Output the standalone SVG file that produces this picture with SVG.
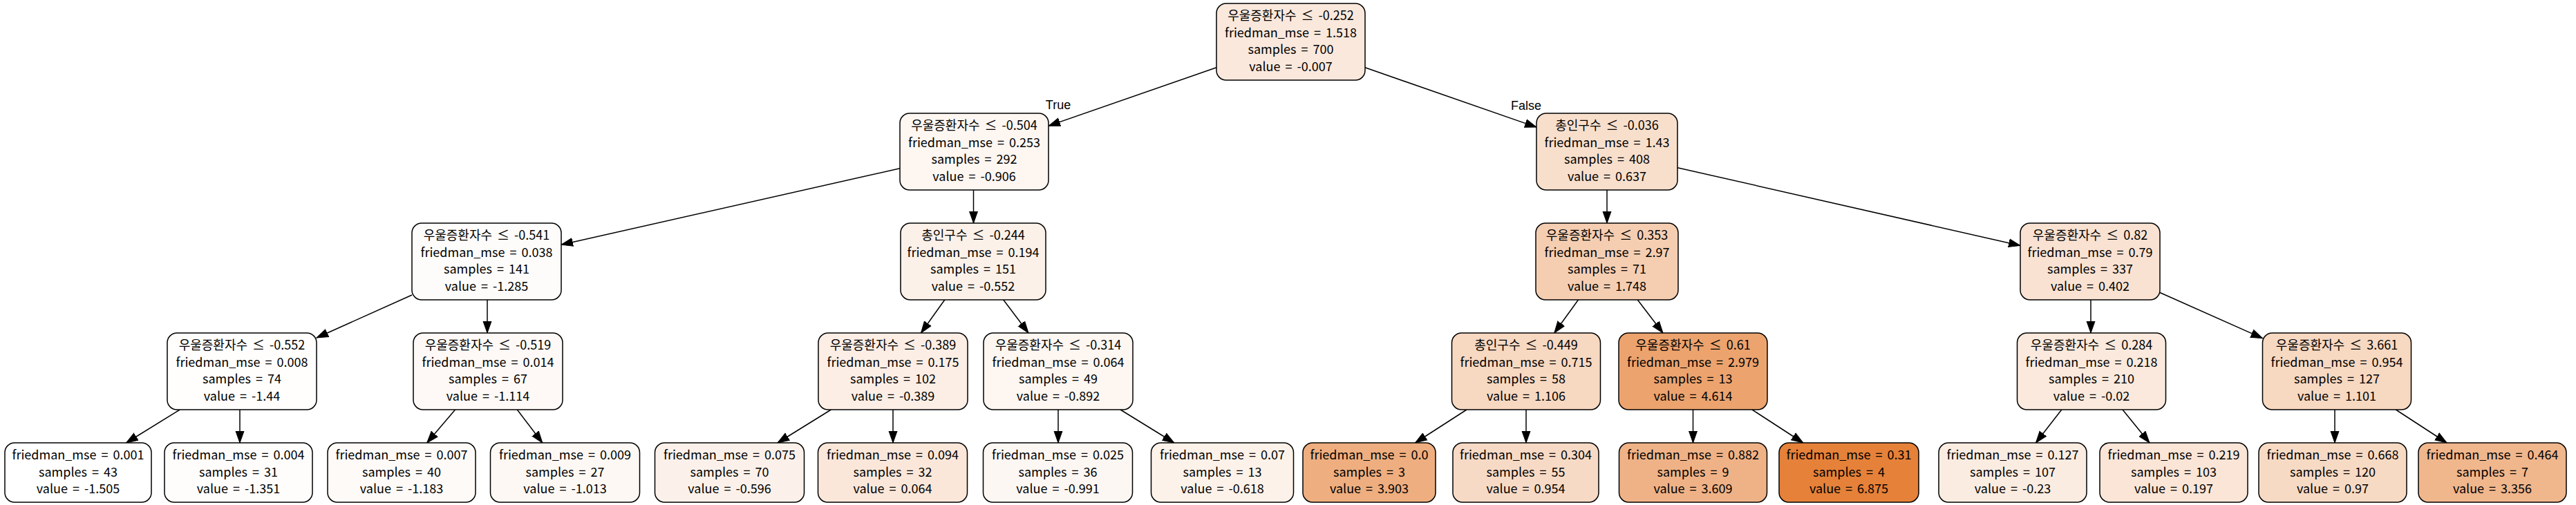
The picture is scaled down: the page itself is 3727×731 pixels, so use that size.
<svg xmlns="http://www.w3.org/2000/svg" width="3727" height="731" viewBox="0 0 3727 731">
<style>
.box{stroke:#000;stroke-width:1.5}
text{font-family:"Noto Sans CJK KR","Noto Sans",sans-serif;font-size:18px;word-spacing:3px;fill:#000;text-anchor:middle}
.lbl{font-family:"Liberation Sans",Arial,sans-serif;font-size:18px;word-spacing:0}
.e{stroke:#000;stroke-width:1.5;fill:none;marker-end:url(#ah)}
</style>
<defs>
<marker id="ah" markerUnits="userSpaceOnUse" markerWidth="18" markerHeight="14" viewBox="0 0 18 14" refX="17" refY="7" orient="auto">
<path d="M0,1 L17,7 L0,13 Z" fill="#000" stroke="#000" stroke-width="1"/>
</marker>
</defs>
<rect width="3727" height="731" fill="#fff"/>
<g id="edges">
<path class="e" d="M1760,97.8 L1517,182.2"/>
<path class="e" d="M1975,97.8 L2223,184.1"/>
<path class="e" d="M1302,243.7 L812,354.2"/>
<path class="e" d="M1408.5,275 L1408.5,323"/>
<path class="e" d="M596,427 L458,489"/>
<path class="e" d="M705,433 L705,482"/>
<path class="e" d="M260.2,593 L182.6,641"/>
<path class="e" d="M347,593 L347,641"/>
<path class="e" d="M658.6,593 L617.7,641"/>
<path class="e" d="M748.3,593 L784.8,641"/>
<path class="e" d="M1367.5,433 L1332.5,482"/>
<path class="e" d="M1451,433 L1488,482"/>
<path class="e" d="M1202.4,593 L1125,641"/>
<path class="e" d="M1292,593 L1292,641"/>
<path class="e" d="M1531,593 L1531,641"/>
<path class="e" d="M1621,593 L1698.8,641"/>
<path class="e" d="M2325,275 L2325,323"/>
<path class="e" d="M2427,242.7 L2923,355.5"/>
<path class="e" d="M2284.2,433 L2248.8,482"/>
<path class="e" d="M2368.5,433 L2406,482"/>
<path class="e" d="M2122,593 L2047.6,641"/>
<path class="e" d="M2208,593 L2208,641"/>
<path class="e" d="M2449.5,593 L2449.5,641"/>
<path class="e" d="M2535,593 L2608.8,641"/>
<path class="e" d="M3025,433 L3025,482"/>
<path class="e" d="M3125,423.5 L3273.5,489.6"/>
<path class="e" d="M2982.8,593 L2945.5,641"/>
<path class="e" d="M3071,593 L3110,641"/>
<path class="e" d="M3378,593 L3378,641"/>
<path class="e" d="M3466.3,593 L3540,641"/>
<text class="lbl" x="1531" y="158">True</text>
<text class="lbl" x="2208" y="159">False</text>
</g>
<g id="n0"><rect class="box" x="1760" y="5" width="215" height="111" rx="14" fill="#fae8dc"/>
<text x="1867.5" y="29">우울증환자수 ≤ -0.252</text><text x="1867.5" y="53.5">friedman_mse = 1.518</text><text x="1867.5" y="78">samples = 700</text><text x="1867.5" y="102.5">value = -0.007</text></g>
<g id="n1"><rect class="box" x="1302" y="164" width="215" height="111" rx="14" fill="#fdf6f1"/>
<text x="1409.5" y="188">우울증환자수 ≤ -0.504</text><text x="1409.5" y="212.5">friedman_mse = 0.253</text><text x="1409.5" y="237">samples = 292</text><text x="1409.5" y="261.5">value = -0.906</text></g>
<g id="n2"><rect class="box" x="596" y="323" width="216" height="111" rx="14" fill="#fefcfa"/>
<text x="704" y="347">우울증환자수 ≤ -0.541</text><text x="704" y="371.5">friedman_mse = 0.038</text><text x="704" y="396">samples = 141</text><text x="704" y="420.5">value = -1.285</text></g>
<g id="n3"><rect class="box" x="242" y="482" width="216" height="111" rx="14" fill="#fffefd"/>
<text x="350" y="506">우울증환자수 ≤ -0.552</text><text x="350" y="530.5">friedman_mse = 0.008</text><text x="350" y="555">samples = 74</text><text x="350" y="579.5">value = -1.44</text></g>
<g id="l1"><rect class="box" x="7" y="641" width="212" height="86" rx="14" fill="#ffffff"/>
<text x="113" y="665">friedman_mse = 0.001</text><text x="113" y="689.5">samples = 43</text><text x="113" y="714">value = -1.505</text></g>
<g id="l2"><rect class="box" x="238" y="641" width="214" height="86" rx="14" fill="#fffdfb"/>
<text x="345" y="665">friedman_mse = 0.004</text><text x="345" y="689.5">samples = 31</text><text x="345" y="714">value = -1.351</text></g>
<g id="n4"><rect class="box" x="598" y="482" width="216" height="111" rx="14" fill="#fef9f6"/>
<text x="706" y="506">우울증환자수 ≤ -0.519</text><text x="706" y="530.5">friedman_mse = 0.014</text><text x="706" y="555">samples = 67</text><text x="706" y="579.5">value = -1.114</text></g>
<g id="l3"><rect class="box" x="474" y="641" width="214" height="86" rx="14" fill="#fefaf7"/>
<text x="581" y="665">friedman_mse = 0.007</text><text x="581" y="689.5">samples = 40</text><text x="581" y="714">value = -1.183</text></g>
<g id="l4"><rect class="box" x="709.5" y="641" width="216" height="86" rx="14" fill="#fdf8f3"/>
<text x="817.5" y="665">friedman_mse = 0.009</text><text x="817.5" y="689.5">samples = 27</text><text x="817.5" y="714">value = -1.013</text></g>
<g id="n5"><rect class="box" x="1303" y="323" width="210" height="111" rx="14" fill="#fcf1e8"/>
<text x="1408" y="347">총인구수 ≤ -0.244</text><text x="1408" y="371.5">friedman_mse = 0.194</text><text x="1408" y="396">samples = 151</text><text x="1408" y="420.5">value = -0.552</text></g>
<g id="n6"><rect class="box" x="1184" y="482" width="216" height="111" rx="14" fill="#fceee5"/>
<text x="1292" y="506">우울증환자수 ≤ -0.389</text><text x="1292" y="530.5">friedman_mse = 0.175</text><text x="1292" y="555">samples = 102</text><text x="1292" y="579.5">value = -0.389</text></g>
<g id="l5"><rect class="box" x="947.5" y="641" width="216" height="86" rx="14" fill="#fcf1ea"/>
<text x="1055.5" y="665">friedman_mse = 0.075</text><text x="1055.5" y="689.5">samples = 70</text><text x="1055.5" y="714">value = -0.596</text></g>
<g id="l6"><rect class="box" x="1183.5" y="641" width="216" height="86" rx="14" fill="#fae7da"/>
<text x="1291.5" y="665">friedman_mse = 0.094</text><text x="1291.5" y="689.5">samples = 32</text><text x="1291.5" y="714">value = 0.064</text></g>
<g id="n7"><rect class="box" x="1423" y="482" width="216" height="111" rx="14" fill="#fdf6f1"/>
<text x="1531" y="506">우울증환자수 ≤ -0.314</text><text x="1531" y="530.5">friedman_mse = 0.064</text><text x="1531" y="555">samples = 49</text><text x="1531" y="579.5">value = -0.892</text></g>
<g id="l7"><rect class="box" x="1422.5" y="641" width="216" height="86" rx="14" fill="#fdf7f3"/>
<text x="1530.5" y="665">friedman_mse = 0.025</text><text x="1530.5" y="689.5">samples = 36</text><text x="1530.5" y="714">value = -0.991</text></g>
<g id="l8"><rect class="box" x="1665.5" y="641" width="206" height="86" rx="14" fill="#fcf2ea"/>
<text x="1768.5" y="665">friedman_mse = 0.07</text><text x="1768.5" y="689.5">samples = 13</text><text x="1768.5" y="714">value = -0.618</text></g>
<g id="nF"><rect class="box" x="2223" y="164" width="204" height="111" rx="14" fill="#f8dfcc"/>
<text x="2325" y="188">총인구수 ≤ -0.036</text><text x="2325" y="212.5">friedman_mse = 1.43</text><text x="2325" y="237">samples = 408</text><text x="2325" y="261.5">value = 0.637</text></g>
<g id="n8"><rect class="box" x="2222" y="323" width="206" height="111" rx="14" fill="#f5ceb2"/>
<text x="2325" y="347">우울증환자수 ≤ 0.353</text><text x="2325" y="371.5">friedman_mse = 2.97</text><text x="2325" y="396">samples = 71</text><text x="2325" y="420.5">value = 1.748</text></g>
<g id="n9"><rect class="box" x="2100.5" y="482" width="215" height="111" rx="14" fill="#f7d8c1"/>
<text x="2208" y="506">총인구수 ≤ -0.449</text><text x="2208" y="530.5">friedman_mse = 0.715</text><text x="2208" y="555">samples = 58</text><text x="2208" y="579.5">value = 1.106</text></g>
<g id="l9"><rect class="box" x="1885" y="641" width="192" height="86" rx="14" fill="#eeae7f"/>
<text x="1981" y="665">friedman_mse = 0.0</text><text x="1981" y="689.5">samples = 3</text><text x="1981" y="714">value = 3.903</text></g>
<g id="l10"><rect class="box" x="2102" y="641" width="211" height="86" rx="14" fill="#f7dac5"/>
<text x="2207.5" y="665">friedman_mse = 0.304</text><text x="2207.5" y="689.5">samples = 55</text><text x="2207.5" y="714">value = 0.954</text></g>
<g id="n10"><rect class="box" x="2342" y="482" width="215" height="111" rx="14" fill="#eca36e"/>
<text x="2449.5" y="506">우울증환자수 ≤ 0.61</text><text x="2449.5" y="530.5">friedman_mse = 2.979</text><text x="2449.5" y="555">samples = 13</text><text x="2449.5" y="579.5">value = 4.614</text></g>
<g id="l11"><rect class="box" x="2342.5" y="641" width="214" height="86" rx="14" fill="#efb286"/>
<text x="2449.5" y="665">friedman_mse = 0.882</text><text x="2449.5" y="689.5">samples = 9</text><text x="2449.5" y="714">value = 3.609</text></g>
<g id="l12"><rect class="box" x="2574" y="641" width="202" height="86" rx="14" fill="#e58139"/>
<text x="2675" y="665">friedman_mse = 0.31</text><text x="2675" y="689.5">samples = 4</text><text x="2675" y="714">value = 6.875</text></g>
<g id="n11"><rect class="box" x="2923" y="323" width="202" height="111" rx="14" fill="#f9e2d2"/>
<text x="3024" y="347">우울증환자수 ≤ 0.82</text><text x="3024" y="371.5">friedman_mse = 0.79</text><text x="3024" y="396">samples = 337</text><text x="3024" y="420.5">value = 0.402</text></g>
<g id="n12"><rect class="box" x="2918.5" y="482" width="215" height="111" rx="14" fill="#fae9dc"/>
<text x="3026" y="506">우울증환자수 ≤ 0.284</text><text x="3026" y="530.5">friedman_mse = 0.218</text><text x="3026" y="555">samples = 210</text><text x="3026" y="579.5">value = -0.02</text></g>
<g id="l13"><rect class="box" x="2805" y="641" width="214" height="86" rx="14" fill="#fbece1"/>
<text x="2912" y="665">friedman_mse = 0.127</text><text x="2912" y="689.5">samples = 107</text><text x="2912" y="714">value = -0.23</text></g>
<g id="l14"><rect class="box" x="3038" y="641" width="214" height="86" rx="14" fill="#fae5d7"/>
<text x="3145" y="665">friedman_mse = 0.219</text><text x="3145" y="689.5">samples = 103</text><text x="3145" y="714">value = 0.197</text></g>
<g id="n13"><rect class="box" x="3273.5" y="482" width="215" height="111" rx="14" fill="#f7d8c1"/>
<text x="3381" y="506">우울증환자수 ≤ 3.661</text><text x="3381" y="530.5">friedman_mse = 0.954</text><text x="3381" y="555">samples = 127</text><text x="3381" y="579.5">value = 1.101</text></g>
<g id="l15"><rect class="box" x="3268" y="641" width="214" height="86" rx="14" fill="#f7dac4"/>
<text x="3375" y="665">friedman_mse = 0.668</text><text x="3375" y="689.5">samples = 120</text><text x="3375" y="714">value = 0.97</text></g>
<g id="l16"><rect class="box" x="3499" y="641" width="214" height="86" rx="14" fill="#f0b68c"/>
<text x="3606" y="665">friedman_mse = 0.464</text><text x="3606" y="689.5">samples = 7</text><text x="3606" y="714">value = 3.356</text></g>
</svg>
